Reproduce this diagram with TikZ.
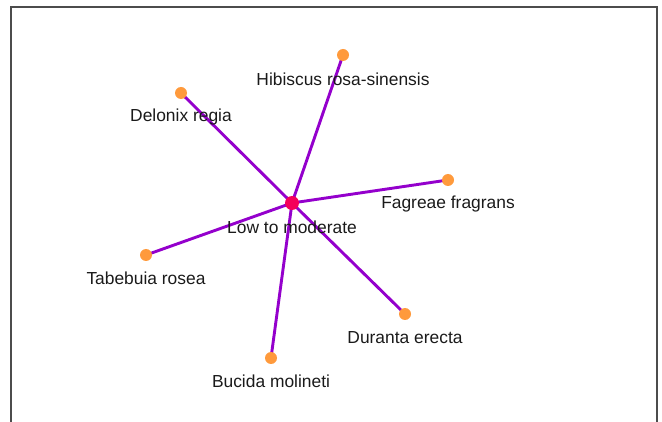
\documentclass[tikz,border=0pt]{standalone}
\usepackage{fontspec}
\setmainfont{Liberation Sans}
\usepackage{tikz}
\pgfdeclarelayer{background}
\pgfsetlayers{background,main}
\definecolor{plant}{HTML}{FF9A3C}
\definecolor{hub}{HTML}{F5005A}
\definecolor{link}{HTML}{9400CC}
\definecolor{txt}{HTML}{1A1A1A}
\tikzstyle{leaf} = [circle, fill=plant, inner sep=0pt, minimum size=12]
\tikzstyle{centre} = [circle, fill=hub, inner sep=0pt, minimum size=14]
\tikzstyle{plantname} = [text=txt, font=\fontsize{17.4}{20}\selectfont, inner sep=0pt]
\tikzstyle{edge} = [draw=link, line width=2.9]

\begin{document}
\begin{tikzpicture}[x=1pt, y=-1pt]
	  \useasboundingbox (0,0) rectangle (662,422);
	  \draw [gray!60!black, line width=1.3] (11,422) -- (11,7) -- (657,7) -- (657,422);

	  \node (lm) at (292,203) [centre] {};
	  \node (hi) at (343,55) [leaf] {};
	  \node (de) at (181,93) [leaf] {};
	  \node (fa) at (448,180) [leaf] {};
	  \node (ta) at (146,255) [leaf] {};
	  \node (du) at (405,314) [leaf] {};
	  \node (bu) at (271,358) [leaf] {};

	  \begin{pgfonlayer}{background}
	  \draw [edge] (lm.center) to (hi.center);
	  \draw [edge] (lm.center) to (de.center);
	  \draw [edge] (lm.center) to (fa.center);
	  \draw [edge] (lm.center) to (ta.center);
	  \draw [edge] (lm.center) to (du.center);
	  \draw [edge] (lm.center) to (bu.center);
	  \end{pgfonlayer}

	  \node (lmt) at (292,227) [plantname] {Low to moderate};
	  \node (hit) at (343,79) [plantname] {Hibiscus rosa-sinensis};
	  \node (det) at (181,117) [plantname] {Delonix regia};
	  \node (fat) at (448,204) [plantname] {Fagreae fragrans};
	  \node (tat) at (146,278) [plantname] {Tabebuia rosea};
	  \node (dut) at (405,338) [plantname] {Duranta erecta};
	  \node (but) at (271,381) [plantname] {Bucida molineti};
	\end{tikzpicture}
\end{document}
